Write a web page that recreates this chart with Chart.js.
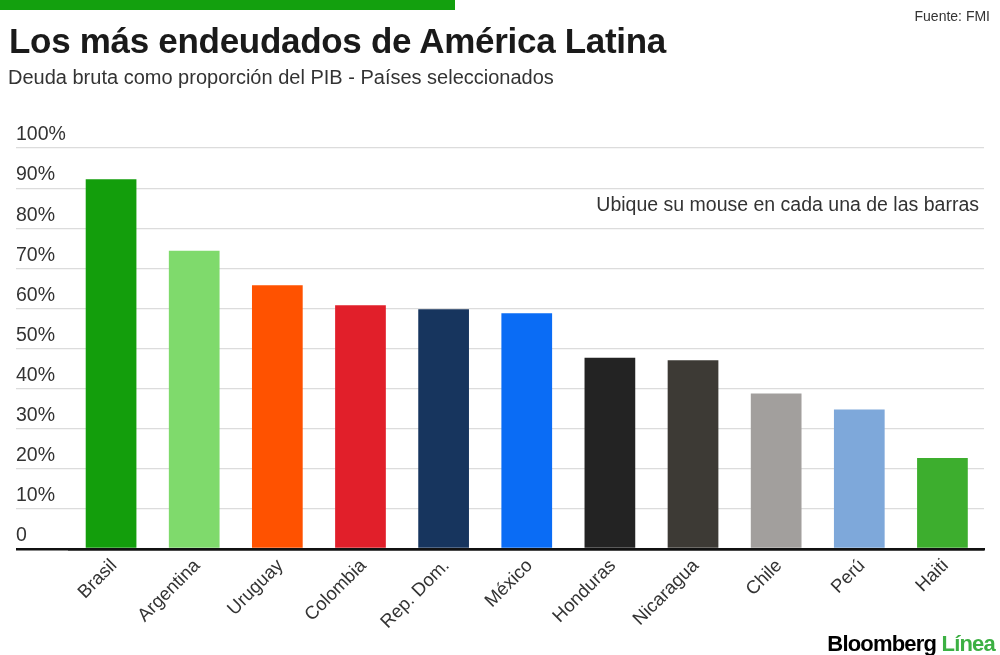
<!DOCTYPE html>
<html lang="es">
<head>
<meta charset="utf-8">
<title>Los más endeudados de América Latina</title>
<script src="https://cdn.jsdelivr.net/npm/chart.js@4.4.1/dist/chart.umd.min.js"></script>
<style>
  html, body { margin: 0; padding: 0; background: #fff; }
  body { width: 1000px; height: 655px; position: relative; overflow: hidden; font-family: 'Liberation Sans', Arial, sans-serif; color: #222; }
  .topbar { position: absolute; left: 0; top: 0; width: 455px; height: 10px; background: #13a00e; }
  .source { position: absolute; right: 10px; top: 8px; font-size: 14px; color: #333; }
  h1 { position: absolute; left: 9px; top: 21px; margin: 0; font-size: 35px; font-weight: bold; letter-spacing: -0.3px; color: #1a1a1a; }
  .subtitle { position: absolute; left: 8px; top: 66px; font-size: 20px; color: #333; }
  .hint { position: absolute; right: 21px; top: 193px; font-size: 19.5px; color: #333; }
  .logo { position: absolute; right: 5px; bottom: -2px; font-size: 22px; font-weight: bold; letter-spacing: -0.8px; color: #000; }
  .logo span { color: #3cb043; }
  #wrap { position: absolute; left: 0; top: 0; width: 1000px; height: 655px; }
</style>
</head>
<body>
<div id="wrap"><canvas id="debt-chart"></canvas></div>
<div class="topbar"></div>
<div class="source">Fuente: FMI</div>
<h1>Los más endeudados de América Latina</h1>
<div class="subtitle">Deuda bruta como proporción del PIB - Países seleccionados</div>
<div class="hint">Ubique su mouse en cada una de las barras</div>
<div class="logo">Bloomberg <span>Línea</span></div>

<script>
const countries = ['Brasil', 'Argentina', 'Uruguay', 'Colombia', 'Rep. Dom.', 'México',
                   'Honduras', 'Nicaragua', 'Chile', 'Perú', 'Haiti'];
const debtToGdp = [92.2, 74.4, 65.8, 60.8, 59.8, 58.8, 47.7, 47.1, 38.8, 34.8, 22.7];
const barColors = ['#139e0c', '#7fda6c', '#ff5200', '#e11f2a', '#17355e', '#0a6cf5',
                   '#232323', '#3d3a35', '#a29f9d', '#7ea8da', '#3dae2e'];
const yTickLabels = ['0', '10%', '20%', '30%', '40%', '50%', '60%', '70%', '80%', '90%', '100%'];

let ctx = document.getElementById('debt-chart').getContext('2d');

let debtChart = new Chart(ctx, {
    type: 'bar',
    data: {
        labels: countries,
        datasets: [{
            label: 'Deuda bruta (% del PIB)',
            data: debtToGdp,
            backgroundColor: barColors,
            borderWidth: 0,
            categoryPercentage: 1,
            barPercentage: 0.61
        }]
    },
    options: {
        responsive: true,
        maintainAspectRatio: false,
        animation: false,
        layout: {
            padding: { top: 148, left: 16, right: 16, bottom: 0 }
        },
        scales: {
            x: {
                z: 1,
                grid: { display: false, drawTicks: false },
                border: { display: true, color: '#111', width: 2.5 },
                ticks: {
                    autoSkip: false,
                    minRotation: 45,
                    maxRotation: 45,
                    padding: 6,
                    labelOffset: 3,
                    color: '#333',
                    font: { family: "'Liberation Sans', Arial, sans-serif", size: 18.5 }
                },
                afterFit: function(scale) { scale.height = 106; }
            },
            y: {
                min: 0,
                max: 100,
                border: { display: false },
                grid: {
                    color: (c) => c.tick && c.tick.value === 0 ? '#111' : '#dcdcdc',
                    tickColor: (c) => c.tick && c.tick.value === 0 ? '#111' : '#dcdcdc',
                    lineWidth: (c) => c.tick && c.tick.value === 0 ? 2.5 : 1.2,
                    drawTicks: true,
                    tickLength: 53.5
                },
                ticks: {
                    stepSize: 10,
                    padding: 0,
                    crossAlign: 'far',
                    labelOffset: -13,
                    color: '#333',
                    font: { family: "'Liberation Sans', Arial, sans-serif", size: 19.5 },
                    callback: function(value, index) { return yTickLabels[index]; }
                },
                afterFit: function(scale) { scale.width = 53.5; }
            }
        },
        plugins: {
            legend: { display: false },
            tooltip: {
                callbacks: {
                    label: function(context) {
                        return context.parsed.y.toFixed(1) + '% del PIB';
                    }
                }
            }
        }
    }
});
</script>
</body>
</html>
